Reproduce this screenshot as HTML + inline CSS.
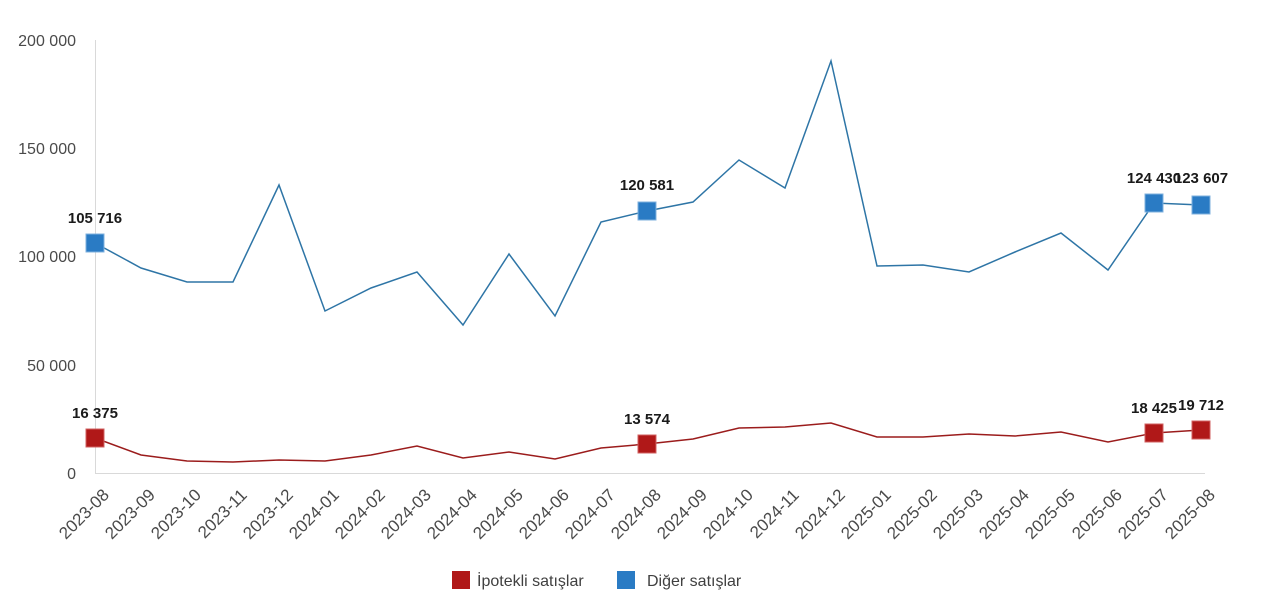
<!DOCTYPE html>
<html><head><meta charset="utf-8"><style>body{margin:0;background:#fff}svg{display:block}</style></head><body>
<svg width="1280" height="604" xmlns="http://www.w3.org/2000/svg" font-family="Liberation Sans, sans-serif">
<line x1="95.5" y1="40" x2="95.5" y2="474" stroke="#d9d9d9"/>
<line x1="95" y1="473.5" x2="1205" y2="473.5" stroke="#d9d9d9"/>
<g font-size="16" fill="#4a4a4a" text-anchor="end">
<text x="76" y="46">200 000</text><text x="76" y="154">150 000</text><text x="76" y="262">100 000</text><text x="76" y="371">50 000</text><text x="76" y="479">0</text>
</g>
<polyline fill="none" stroke="#2e75a6" stroke-width="1.5" points="95,243 141,268 187,282 233,282 279,185 325,311 371,288 417,272 463,325 509,254 555,316 601,222 647,211 693,202 739,160 785,188 831,61 877,266 923,265 969,272 1015,252 1061,233 1108,270 1154,203 1201,205"/>
<polyline fill="none" stroke="#9b1c1c" stroke-width="1.5" points="95,438 141,455 187,461 233,462 279,460 325,461 371,455 417,446 463,458 509,452 555,459 601,448 647,444 693,439 739,428 785,427 831,423 877,437 923,437 969,434 1015,436 1061,432 1108,442 1154,433 1201,430"/>
<g fill="#2a7bc4" stroke="#7fb0de" stroke-width="1">
<rect x="86" y="234" width="18" height="18"/><rect x="638" y="202" width="18" height="18"/><rect x="1145" y="194" width="18" height="18"/><rect x="1192" y="196" width="18" height="18"/></g>
<g fill="#b01818" stroke="#d06060" stroke-width="1">
<rect x="86" y="429" width="18" height="18"/><rect x="638" y="435" width="18" height="18"/><rect x="1145" y="424" width="18" height="18"/><rect x="1192" y="421" width="18" height="18"/></g>
<g font-size="15" font-weight="bold" fill="#1a1a1a" text-anchor="middle">
<text x="95" y="223">105 716</text><text x="647" y="190">120 581</text><text x="1154" y="183">124 430</text><text x="1201" y="183">123 607</text>
<text x="95" y="418">16 375</text><text x="647" y="424">13 574</text><text x="1154" y="413">18 425</text><text x="1201" y="410">19 712</text>
</g>
<rect x="452" y="571" width="18" height="18" fill="#b01818"/>
<text x="477" y="586" font-size="16" fill="#404040">İpotekli satışlar</text>
<rect x="617" y="571" width="18" height="18" fill="#2a7bc4"/>
<text x="647" y="586" font-size="16" fill="#404040">Diğer satışlar</text>
<g font-size="17" fill="#4a4a4a" text-anchor="end">
<text transform="translate(110,496) rotate(-45)">2023-08</text>
<text transform="translate(156,496) rotate(-45)">2023-09</text>
<text transform="translate(202,496) rotate(-45)">2023-10</text>
<text transform="translate(248,496) rotate(-45)">2023-11</text>
<text transform="translate(294,496) rotate(-45)">2023-12</text>
<text transform="translate(340,496) rotate(-45)">2024-01</text>
<text transform="translate(386,496) rotate(-45)">2024-02</text>
<text transform="translate(432,496) rotate(-45)">2024-03</text>
<text transform="translate(478,496) rotate(-45)">2024-04</text>
<text transform="translate(524,496) rotate(-45)">2024-05</text>
<text transform="translate(570,496) rotate(-45)">2024-06</text>
<text transform="translate(616,496) rotate(-45)">2024-07</text>
<text transform="translate(662,496) rotate(-45)">2024-08</text>
<text transform="translate(708,496) rotate(-45)">2024-09</text>
<text transform="translate(754,496) rotate(-45)">2024-10</text>
<text transform="translate(800,496) rotate(-45)">2024-11</text>
<text transform="translate(846,496) rotate(-45)">2024-12</text>
<text transform="translate(892,496) rotate(-45)">2025-01</text>
<text transform="translate(938,496) rotate(-45)">2025-02</text>
<text transform="translate(984,496) rotate(-45)">2025-03</text>
<text transform="translate(1030,496) rotate(-45)">2025-04</text>
<text transform="translate(1076,496) rotate(-45)">2025-05</text>
<text transform="translate(1123,496) rotate(-45)">2025-06</text>
<text transform="translate(1169,496) rotate(-45)">2025-07</text>
<text transform="translate(1216,496) rotate(-45)">2025-08</text>
</g>
</svg>
</body></html>
